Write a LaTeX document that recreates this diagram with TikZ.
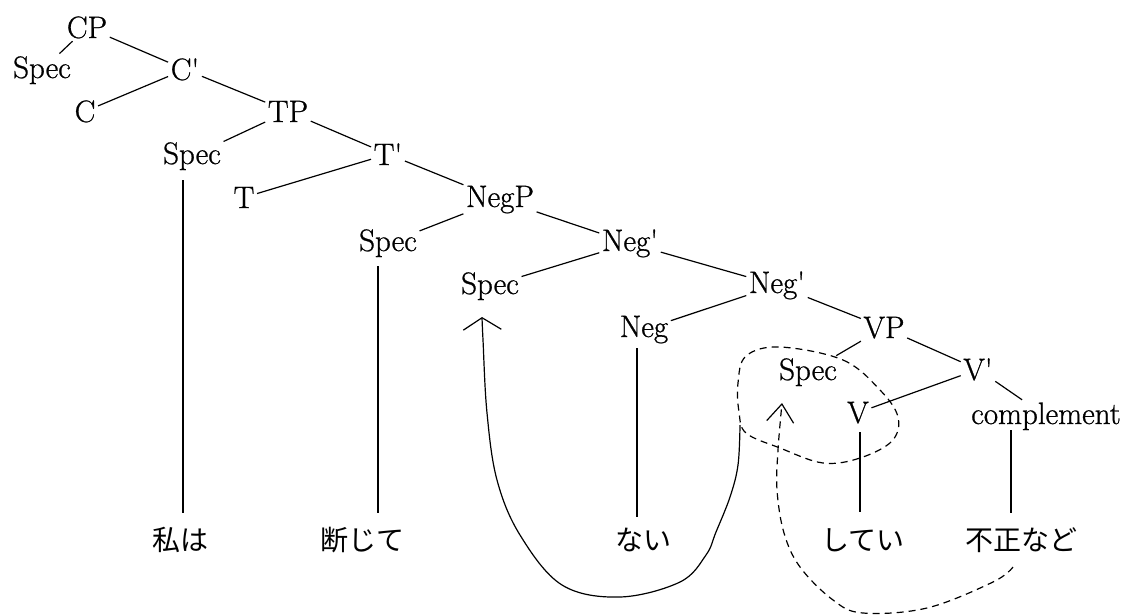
\documentclass[tikz,border=0pt]{standalone}
\usepackage{fontspec}
\newfontfamily\jp{Noto Sans CJK JP}
\newfontfamily\treefont{Latin Modern Roman}[FakeBold=0.8]
\usetikzlibrary{arrows.meta}
\begin{document}
\begin{tikzpicture}[x=1pt,y=-1pt,
  lbl/.style={anchor=base, inner sep=2.5pt, font=\treefont\fontsize{31}{36}\selectfont},
  word/.style={anchor=center, inner sep=2pt, font=\jp\fontsize{28}{32}\selectfont},
  branch/.style={line width=1.2pt},
  moveline/.style={line width=1.2pt},
  movedash/.style={line width=1.2pt, dash pattern=on 7pt off 5pt},
]
\useasboundingbox (0,0) rectangle (1135,614);
% tree labels
\node[lbl] (CP) at (87,38) {CP};
\node[lbl] (spA) at (42,78) {Spec};
\node[lbl] (Cbar) at (185,80) {C\textquotesingle};
\node[lbl] (C) at (85,122) {C};
\node[lbl] (TP) at (288,122) {TP};
\node[lbl] (spB) at (192,164) {Spec};
\node[lbl] (Tbar) at (388,165) {T\textquotesingle};
\node[lbl] (T) at (244,208) {T};
\node[lbl] (NegP) at (500,207) {NegP};
\node[lbl] (spC) at (388,251) {Spec};
\node[lbl] (NegA) at (630,251) {Neg\textquotesingle};
\node[lbl] (spD) at (490,294) {Spec};
\node[lbl] (NegB) at (777,293) {Neg\textquotesingle};
\node[lbl] (Neg) at (644,337) {Neg};
\node[lbl] (VP) at (884,338) {VP};
\node[lbl] (spE) at (808,380) {Spec};
\node[lbl] (Vbar) at (978,380) {V\textquotesingle};
\node[lbl] (V) at (858,423) {V};
\node[lbl] (comp) at (1046,424) {complement};
% words
\node[word] (w1) at (180,540) {私は};
\node[word] (w2) at (362,540) {断じて};
\node[word] (w3) at (643,540) {ない};
\node[word] (w4) at (863,540) {してい};
\node[word] (w5) at (1021,540) {不正など};
% branches
\draw[branch] (CP) -- (spA);
\draw[branch] (CP) -- (Cbar);
\draw[branch] (Cbar) -- (C);
\draw[branch] (Cbar) -- (TP);
\draw[branch] (TP) -- (spB);
\draw[branch] (TP) -- (Tbar);
\draw[branch] (Tbar) -- (T);
\draw[branch] (Tbar) -- (NegP);
\draw[branch] (NegP) -- (spC);
\draw[branch] (NegP) -- (NegA);
\draw[branch] (NegA) -- (spD);
\draw[branch] (NegA) -- (NegB);
\draw[branch] (NegB) -- (Neg);
\draw[branch] (NegB) -- (VP);
\draw[branch] (VP) -- (spE);
\draw[branch] (VP) -- (Vbar);
\draw[branch] (Vbar) -- (V);
\draw[branch] (Vbar) -- (comp);
% vertical lines to words
\coordinate (t1) at ([xshift=-9pt]spB.base);
\coordinate (t2) at ([xshift=-10pt]spC.base);
\coordinate (t3) at ([xshift=-7pt]Neg.base);
\coordinate (t4) at ([xshift=2pt]V.base);
\coordinate (t5) at ([xshift=-35pt]comp.base);
\draw[branch, shorten <=16pt, shorten >=27pt] (t1) -- (t1 |- w1.center);
\draw[branch, shorten <=15pt, shorten >=27pt] (t2) -- (t2 |- w2.center);
\draw[branch, shorten <=11pt, shorten >=23pt] (t3) -- (t3 |- w3.center);
\draw[branch, shorten <=9pt, shorten >=28pt] (t4) -- (t4 |- w4.center);
\draw[branch, shorten <=6pt, shorten >=27pt] (t5) -- (t5 |- w5.center);
% movement arrows
\coordinate (m1s) at (740,425);
\coordinate (m1e) at (482,317);
\draw[moveline, -{Straight Barb[length=12pt,width=38pt]}] plot[smooth, tension=0.6] coordinates {(m1s) (738,465) (730,497) (716,532) (706,555) (680,582) (620,597) (562,585) (520,535) (497,480) (487,413) (483,340) (m1e)};
\coordinate (m2s) at (1013,567);
\coordinate (m2e) at (782,403);
\draw[movedash, -{Straight Barb[length=18pt,width=27pt]}] plot[smooth, tension=0.6] coordinates {(m2s) (993,582) (927,608) (863,613) (833,600) (800,567) (784,533) (777,490) (778,450) (m2e)};
% dashed loop round Spec and V
\draw[movedash] plot[smooth cycle, tension=0.6] coordinates {(780,347) (843,360) (880,390) (898,417) (892,441) (860,458) (823,463) (780,448) (746,433) (739,412) (738,383) (746,356)};
\end{tikzpicture}
\end{document}
